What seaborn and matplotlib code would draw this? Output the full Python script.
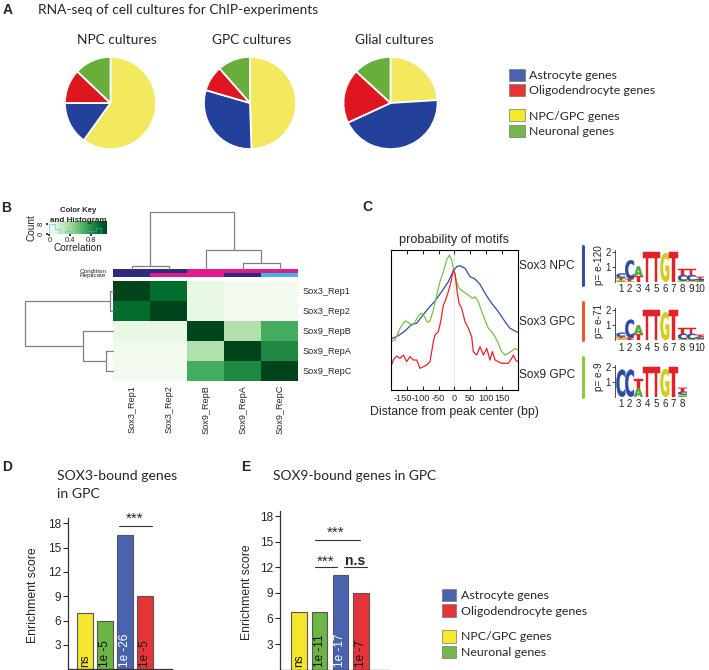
import numpy as np
import pandas as pd
import matplotlib
matplotlib.use("Agg")
import matplotlib.pyplot as plt
import matplotlib.patches as mpatches
from matplotlib.lines import Line2D
from matplotlib.colors import ListedColormap
from matplotlib.textpath import TextPath
from matplotlib.font_manager import FontProperties
from matplotlib.transforms import Affine2D, ScaledTranslation
import seaborn as sns

sns.set_theme(style="white")
plt.rcParams["font.family"] = ["Liberation Sans", "DejaVu Sans"]
plt.rcParams["axes.linewidth"] = 0.8

# ------------------------------------------------------------------ data
# A: pies (order clockwise from 12 o'clock)
pie_groups = ["NPC/GPC genes", "Astrocyte genes", "Oligodendrocyte genes", "Neuronal genes"]
pie_npc = [60, 15, 12, 13]
pie_gpc = [49.5, 30, 9, 11.5]
pie_glial = [24, 44, 19, 13]
pie_titles = ["NPC cultures", "GPC cultures", "Glial cultures"]
legend_labels = ["Astrocyte genes", "Oligodendrocyte genes", "NPC/GPC genes", "Neuronal genes"]

# B: correlation heatmap
samples = ["Sox3_Rep1", "Sox3_Rep2", "Sox9_RepB", "Sox9_RepA", "Sox9_RepC"]
corr_sox3_rep1 = [1.00, 0.87, 0.10, 0.03, 0.03]
corr_sox3_rep2 = [0.87, 1.00, 0.10, 0.03, 0.03]
corr_sox9_repb = [0.10, 0.10, 1.00, 0.32, 0.62]
corr_sox9_repa = [0.03, 0.03, 0.32, 1.00, 0.76]
corr_sox9_repc = [0.03, 0.03, 0.62, 0.76, 1.00]
condition_codes = [0, 0, 1, 1, 1]
replicate_codes = [0, 1, 1, 0, 2]
col_links = [(0, 1, 3.0), (3, 4, 5.7), (2, 6, 19.0), (5, 7, 57.3)]
row_links = [(0, 1, 3.3), (3, 4, 7.3), (2, 6, 30.0), (5, 7, 88.3)]

# C: motif probability curves
npc3_x = [-200, -176.8, -155.8, -134.7, -118.9, -103.2, -82.1, -61.1, -40, -18.9, -8.4, -1, 7.4,
          17.9, 33.7, 49.5, 65.3, 81, 96.8, 117.9, 138.9, 160, 175.8, 191.6, 200]
npc3_y = [1.53, 1.63, 1.77, 1.97, 2.00, 2.20, 2.45, 2.67, 2.95, 3.25, 3.47, 3.60, 3.70,
          3.73, 3.65, 3.40, 3.33, 3.17, 2.90, 2.60, 2.35, 2.05, 1.85, 1.77, 1.73]
sox9_x = [-200, -187.4, -171.6, -155.8, -145.3, -134.7, -124.2, -113.7, -103.2, -94.7, -84.2, -76.8,
          -66.3, -55.8, -45.3, -34.7, -24.2, -15.8, -8.4, -1, 7.4, 14.7, 28.4, 44.2, 56.8, 65.3,
          75.8, 86.3, 96.8, 107.4, 117.9, 128.4, 138.9, 149.5, 160, 170.5, 181, 191.6, 200]
sox9_y = [1.45, 1.50, 1.85, 2.07, 2.03, 1.93, 2.03, 2.23, 2.30, 2.20, 2.03, 2.07,
          2.40, 2.85, 3.25, 3.55, 3.90, 4.05, 3.90, 3.55, 3.25, 3.05, 2.95, 2.85, 2.75, 2.80,
          2.65, 2.35, 2.10, 1.85, 1.75, 1.60, 1.40, 1.15, 1.05, 1.10, 1.17, 1.25, 1.20]
gpc3_x = [-200, -192.6, -182.1, -171.6, -161, -150.5, -140, -129.5, -118.9, -108.4, -97.9, -87.4,
          -76.8, -71.6, -66.3, -61.1, -50.5, -42.1, -34.7, -29.5, -18.9, -10.5, -3.2, 2.1, 7.4,
          14.7, 23.2, 33.7, 44.2, 54.7, 60, 70.5, 81, 91.6, 102.1, 112.6, 120, 128.4, 138.9,
          149.5, 160, 170.5, 181, 186.3, 193.7, 200]
gpc3_y = [0.70, 0.90, 1.02, 0.95, 1.05, 0.85, 1.00, 0.90, 0.90, 0.65, 0.70, 0.75,
          0.85, 1.15, 1.45, 1.65, 1.75, 2.10, 2.55, 2.65, 2.95, 3.25, 3.60, 3.50, 3.05,
          2.60, 2.45, 2.05, 1.85, 1.60, 1.15, 1.05, 1.30, 1.05, 1.25, 0.90, 1.15, 0.90, 0.85,
          0.80, 0.80, 0.80, 0.95, 1.05, 0.90, 0.85]
motif_names = ["Sox3 NPC", "Sox3 GPC", "Sox9 GPC"]
motif_pvals = ["p= e-120", "p= e-71", "p= e-9"]

# C: sequence logos (bits per base and position)
logo1_A = [0.05, 0.00, 0.62, 0, 0, 0, 0, 0.03, 0.03, 0.05]
logo1_C = [0.27, 1.25, 0.00, 0, 0, 0, 0, 0.38, 0.38, 0.08]
logo1_G = [0.07, 0.03, 0.00, 0, 0, 1.90, 0, 0.03, 0.03, 0.05]
logo1_T = [0.15, 0.15, 0.38, 2.0, 2.0, 0.00, 2.0, 0.42, 0.42, 0.15]
logo2_A = [0.05, 0.00, 0.60, 0, 0, 0, 0, 0.03, 0.03, 0.05]
logo2_C = [0.25, 1.20, 0.00, 0, 0, 0, 0, 0.35, 0.35, 0.12]
logo2_G = [0.06, 0.03, 0.00, 0, 0, 1.85, 0, 0.03, 0.03, 0.05]
logo2_T = [0.12, 0.12, 0.38, 2.0, 2.0, 0.00, 2.0, 0.40, 0.40, 0.12]
logo3_A = [0.00, 0.00, 0.58, 0, 0, 0, 0, 0.05]
logo3_C = [1.80, 1.80, 0.00, 0, 0, 0, 0, 0.18]
logo3_G = [0.00, 0.00, 0.00, 0, 0, 1.85, 0, 0.10]
logo3_T = [0.00, 0.00, 0.60, 2.0, 2.0, 0.00, 2.0, 0.28]

# D / E: enrichment bars
bar_cats = ["NPC/GPC", "Neuronal", "Astrocyte", "Oligodendrocyte"]
sox3_scores = [7.0, 6.0, 16.5, 9.0]
sox3_pvals = ["ns", "1e -5", "1e -26", "1e -5"]
sox9_scores = [6.8, 6.8, 11.1, 9.0]
sox9_pvals = ["ns", "1e -11", "1e -17", "1e -7"]

# ------------------------------------------------------------------ style
pie_colors = ["#F2E95E", "#23409A", "#DF1620", "#69AD3B"]
bar_colors = ["#F3E62C", "#6CB446", "#4A63AE", "#E53438"]
leg_colors = ["#4A63AE", "#E53438", "#F3EA2C", "#73B64B"]
curve_colors = {"Sox3 NPC": "#2E4DA7", "Sox3 GPC": "#E5252A", "Sox9 GPC": "#7DBE45"}
bar_marks = ["#3A4A9E", "#EC5A2E", "#93C43E"]
logo_colors = {"A": "#4BAA3C", "C": "#2C4BA5", "G": "#D4CC1C", "T": "#E42128"}
HUM = ["Lato", "DejaVu Sans"]

W, H = 709.0, 670.0
fig = plt.figure(figsize=(W / 100, H / 100), dpi=100)


def px_axes(l, t, w, h):
    return fig.add_axes([l / W, 1 - (t + h) / H, w / W, h / H])


def ftext(x, y, s, **kw):
    return fig.text(x / W, 1 - y / H, s, **kw)


def panel_letter(x, y, s):
    ftext(x, y, s, fontsize=10, fontweight="bold", ha="center", va="center")


# ------------------------------------------------------------------ A
panel_letter(7.5, 10, "A")
ftext(38.5, 10, "RNA-seq of cell cultures for ChIP-experiments", family=HUM, fontsize=9.9,
      ha="left", va="center")
pie_boxes = [(64, 93), (203, 94), (342.5, 96)]
pie_title_x = [116.5, 252, 394]
for vals, title, (l, w), tx in zip([pie_npc, pie_gpc, pie_glial], pie_titles, pie_boxes, pie_title_x):
    ax = px_axes(l, 56, w, 94)
    ax.pie(vals, colors=pie_colors, startangle=90, counterclock=False,
           wedgeprops=dict(edgecolor="white", linewidth=1.3))
    ax.set_aspect("auto")
    ax.set_xlim(-1.02, 1.02)
    ax.set_ylim(-1.02, 1.02)
    ftext(tx, 39.5, title, family=HUM, fontsize=9.9, ha="center", va="center")


def make_legend(x, y, idx, size, hl, hh, ls, tp):
    handles = [mpatches.Patch(facecolor=leg_colors[i], edgecolor="#777777", linewidth=0.5) for i in idx]
    labels = [legend_labels[i] for i in idx]
    fig.legend(handles, labels, loc="upper left", bbox_to_anchor=(x / W, 1 - y / H),
               frameon=False, prop=FontProperties(family=HUM, size=size), handlelength=hl,
               handleheight=hh, labelspacing=ls, handletextpad=tp, borderpad=0, borderaxespad=0)


make_legend(509.2, 68.6, [0, 1], 8.9, 1.25, 1.13, 0.26, 0.38)
make_legend(509.2, 109.3, [2, 3], 8.9, 1.25, 1.13, 0.26, 0.38)

# ------------------------------------------------------------------ B
panel_letter(6, 208, "B")
corr = pd.DataFrame([corr_sox3_rep1, corr_sox3_rep2, corr_sox9_repb, corr_sox9_repa, corr_sox9_repc],
                    index=samples, columns=samples)
hm = px_axes(113.3, 280.7, 185, 100)
sns.heatmap(corr, ax=hm, cmap="Greens", vmin=0, vmax=1, cbar=False,
            xticklabels=samples, yticklabels=samples)
hm.yaxis.tick_right()
hm.tick_params(axis="both", length=0, labelsize=6.6, pad=3)
plt.setp(hm.get_yticklabels(), rotation=0)
plt.setp(hm.get_xticklabels(), rotation=90)
hm.set_xlabel("")
hm.set_ylabel("")

cb = px_axes(113.3, 269, 185, 8.3)
sns.heatmap(np.array([condition_codes, replicate_codes]), ax=cb,
            cmap=ListedColormap(["#2E2A7C", "#E2198A", "#3CB6E6"]), vmin=-0.5, vmax=2.5,
            cbar=False, xticklabels=False, yticklabels=["Condition", "Replicate"])
cb.tick_params(length=0, labelsize=4.6, pad=5)
plt.setp(cb.get_yticklabels(), rotation=0)


def dendro_lines(links, n):
    pos = {i: i + 0.5 for i in range(n)}
    hgt = {i: 0.0 for i in range(n)}
    segs = []
    for k, (a, b, h) in enumerate(links):
        segs.append(([pos[a], pos[a], pos[b], pos[b]], [hgt[a], h, h, hgt[b]]))
        pos[n + k] = (pos[a] + pos[b]) / 2
        hgt[n + k] = h
    return segs


dt = px_axes(113.3, 209, 185, 60)
for xs, ys in dendro_lines(col_links, 5):
    dt.plot(xs, ys, color="#808080", lw=0.9, clip_on=False)
dt.set_xlim(0, 5)
dt.set_ylim(0, 60)
dt.axis("off")

dl = px_axes(20, 280.7, 93.3, 100)
for xs, ys in dendro_lines(row_links, 5):
    dl.plot(ys, xs, color="#808080", lw=0.9, clip_on=False)
dl.set_xlim(93.3, 0)
dl.set_ylim(5, 0)
dl.axis("off")

ck = px_axes(48.3, 221, 59, 13)
ck.imshow(np.linspace(0, 1, 256)[None, :], aspect="auto", cmap="Greens",
          extent=(-0.02, 1.12, 0, 10.4), origin="lower")
counts, edges = np.histogram(corr.values.ravel(), bins=10, range=(0, 1))
ck.stairs(counts, edges, color="#30B8E8", lw=0.5, alpha=0.7)
ck.set_xlim(-0.02, 1.12)
ck.set_ylim(0, 10.4)
ck.set_xticks([0, 0.4, 0.8])
ck.set_xticklabels(["0", "0.4", "0.8"])
ck.set_yticks([0, 8])
ck.set_yticklabels(["0", "8"], rotation=90, va="center")
ck.tick_params(axis="both", labelsize=5.5, length=1.5, pad=1, bottom=True, left=True)
ck.set_xlabel("Correlation", fontsize=7.2, labelpad=-1)
ck.set_ylabel("Count", fontsize=7.2, labelpad=1)
for s in ck.spines.values():
    s.set_visible(False)
ftext(78.5, 210.7, "Color Key", fontsize=5.6, fontweight="bold", ha="center", va="center")
ftext(78.5, 221, "and Histogram", fontsize=5.8, fontweight="bold", ha="center", va="center")

# ------------------------------------------------------------------ C
panel_letter(367, 207, "C")
axc = px_axes(391, 250, 126.7, 140)
curve_df = pd.concat([
    pd.DataFrame({"Distance": npc3_x, "Probability": npc3_y, "Motif": "Sox3 NPC"}),
    pd.DataFrame({"Distance": sox9_x, "Probability": sox9_y, "Motif": "Sox9 GPC"}),
    pd.DataFrame({"Distance": gpc3_x, "Probability": gpc3_y, "Motif": "Sox3 GPC"}),
])
axc.axvline(0, color="#DDDDDD", lw=0.5, zorder=0)
sns.lineplot(data=curve_df, x="Distance", y="Probability", hue="Motif", palette=curve_colors,
             estimator=None, sort=False, legend=False, lw=0.9, ax=axc)
axc.set_xlim(-200, 200)
axc.set_ylim(0, 4.2)
axc.set_xticks([-150, -100, -50, 0, 50, 100, 150])
axc.set_xticklabels(["-150", "-100", "-50", "0", "50", "100", "150"])
axc.set_yticks([])
axc.tick_params(axis="x", direction="in", length=3, width=0.8, labelsize=6.6, pad=3,
                top=True, bottom=True)
label_shift_px = {"-150": -4.5, "-100": -1.8, "-50": -0.3}
for lab in axc.get_xticklabels():
    dx = label_shift_px.get(lab.get_text(), 0.0)
    if dx:
        lab.set_transform(lab.get_transform() + ScaledTranslation(dx / 100, 0, fig.dpi_scale_trans))
axc.set_xlabel("Distance from peak center (bp)", fontsize=8.8, labelpad=2)
axc.set_ylabel("")
for s in axc.spines.values():
    s.set_color("black")
    s.set_linewidth(0.8)
ftext(454, 239.5, "probability of motifs", fontsize=9.2, ha="center", va="center")

logo_font = FontProperties(family="DejaVu Sans", weight="bold")


def draw_letter(ax, ch, xc, y0, h, width=0.98):
    tp = TextPath((0, 0), ch, size=1, prop=logo_font)
    bb = tp.get_extents()
    tr = Affine2D().translate(-bb.x0, -bb.y0).scale(width / bb.width, h / bb.height).translate(xc - width / 2, y0)
    ax.add_patch(mpatches.PathPatch(tr.transform_path(tp), facecolor=logo_colors[ch],
                                    edgecolor=logo_colors[ch], lw=0.35))


def draw_logo(ax, a, c, g, t):
    n = len(a)
    for i in range(n):
        stack = sorted(zip([a[i], c[i], g[i], t[i]], "ACGT"))
        y0 = 0.0
        for h, ch in stack:
            if h > 0:
                draw_letter(ax, ch, i + 1, y0, h)
                y0 += h
    ax.set_xlim(0.34, n + 0.5)
    ax.set_ylim(0, 2.12)
    ax.set_xticks(range(1, n + 1))
    ax.set_xticklabels([str(i) for i in range(1, n + 1)])
    ax.set_yticks([1, 2])
    ax.set_yticklabels(["1", "2"])
    ax.tick_params(axis="x", length=0, labelsize=7, pad=2)
    ax.tick_params(axis="y", length=2, width=0.6, labelsize=7, pad=1, left=True)
    for side in ["top", "right", "bottom"]:
        ax.spines[side].set_visible(False)
    ax.spines["left"].set_linewidth(0.6)
    ax.spines["left"].set_color("#333333")


PX_PER_POS = 8.8
logo_specs = [
    (281.7, 10, (logo1_A, logo1_C, logo1_G, logo1_T)),
    (340.0, 10, (logo2_A, logo2_C, logo2_G, logo2_T)),
    (396.7, 8, (logo3_A, logo3_C, logo3_G, logo3_T)),
]
label_y = [266, 321.7, 375.5]
bar_span = [(246, 285), (301.7, 340), (356.7, 396.7)]
for k, (bottom, n, arrs) in enumerate(logo_specs):
    hgt = 2.12 * 15
    lax = px_axes(615, bottom - hgt, (n + 0.5 - 0.34) * PX_PER_POS, hgt)
    draw_logo(lax, *arrs)
    ftext(575, label_y[k], motif_names[k], fontsize=8.6, ha="right", va="center")
    y0, y1 = bar_span[k]
    fig.add_artist(Line2D([583.3 / W, 583.3 / W], [1 - y0 / H, 1 - y1 / H], color=bar_marks[k], lw=2.2))
    ftext(598.5, (y0 + y1) / 2, motif_pvals[k], fontsize=7.2, rotation=90, ha="center", va="center")


# ------------------------------------------------------------------ D / E
def enrichment(ax, scores, pvals, width, xlim, ylim, ylabel_x):
    sns.barplot(x=bar_cats, y=scores, hue=bar_cats, palette=bar_colors, legend=False,
                width=width, saturation=1, edgecolor="#555555", linewidth=0.8, ax=ax)
    for i, (v, lab) in enumerate(zip(scores, pvals)):
        ax.text(i, 0.3, lab, rotation=90, ha="center", va="bottom", fontsize=8.5,
                color="white" if i == 2 else "#111111")
    ax.set_xlim(*xlim)
    ax.set_ylim(*ylim)
    ax.set_xticks([])
    ax.set_yticks([3, 6, 9, 12, 15, 18])
    ax.set_yticklabels(["3", "6", "9", "12", "15", "18"])
    ax.tick_params(axis="y", direction="out", length=3.5, width=0.8, labelsize=8.5, pad=1.5, left=True)
    ax.set_ylabel("Enrichment score", fontsize=8.8)
    ax.yaxis.set_label_coords(ylabel_x, 0.49)
    ax.set_xlabel("")
    for side in ["top", "right"]:
        ax.spines[side].set_visible(False)
    for side in ["left", "bottom"]:
        ax.spines[side].set_color("#333333")
        ax.spines[side].set_linewidth(0.9)


panel_letter(7, 467, "D")
ftext(56.7, 476.5, "SOX3-bound genes", family=HUM, fontsize=10.1, ha="left", va="center")
ftext(56.7, 493.5, "in GPC", family=HUM, fontsize=10.1, ha="left", va="center")
axd = px_axes(68.3, 518, 103.4, 151.3)
enrichment(axd, sox3_scores, sox3_pvals, 0.77, (-0.835, 4.335), (0, 18.65), -0.28)
axd.plot([1.7, 3.35], [17.67, 17.67], color="#333333", lw=0.8, clip_on=False)
axd.text(2.5, 18.05, "***", ha="center", va="baseline", fontsize=11, clip_on=False)

panel_letter(246, 467, "E")
ftext(273.3, 476.5, "SOX9-bound genes in GPC", family=HUM, fontsize=9.9, ha="left", va="center")
axe = px_axes(280, 511, 108.3, 158.6)
enrichment(axe, sox9_scores, sox9_pvals, 0.755, (-0.9, 4.3), (0, 18.6), -0.25)
axe.plot([0.78, 2.95], [15.2, 15.2], color="#333333", lw=0.8, clip_on=False)
axe.text(1.75, 15.55, "***", ha="center", va="baseline", fontsize=11)
axe.plot([0.78, 1.86], [12.0, 12.0], color="#333333", lw=0.8, clip_on=False)
axe.text(1.29, 12.15, "***", ha="center", va="baseline", fontsize=11)
axe.plot([2.19, 3.27], [12.0, 12.0], color="#333333", lw=0.8, clip_on=False)
axe.text(2.69, 12.25, "n.s", ha="center", va="baseline", fontsize=10, fontweight="bold")

make_legend(441.7, 588.5, [0, 1], 8.9, 1.13, 1.21, 0.24, 0.4)
make_legend(441.7, 629.8, [2, 3], 8.9, 1.13, 1.21, 0.24, 0.4)

fig.savefig("out.png", dpi=100)
